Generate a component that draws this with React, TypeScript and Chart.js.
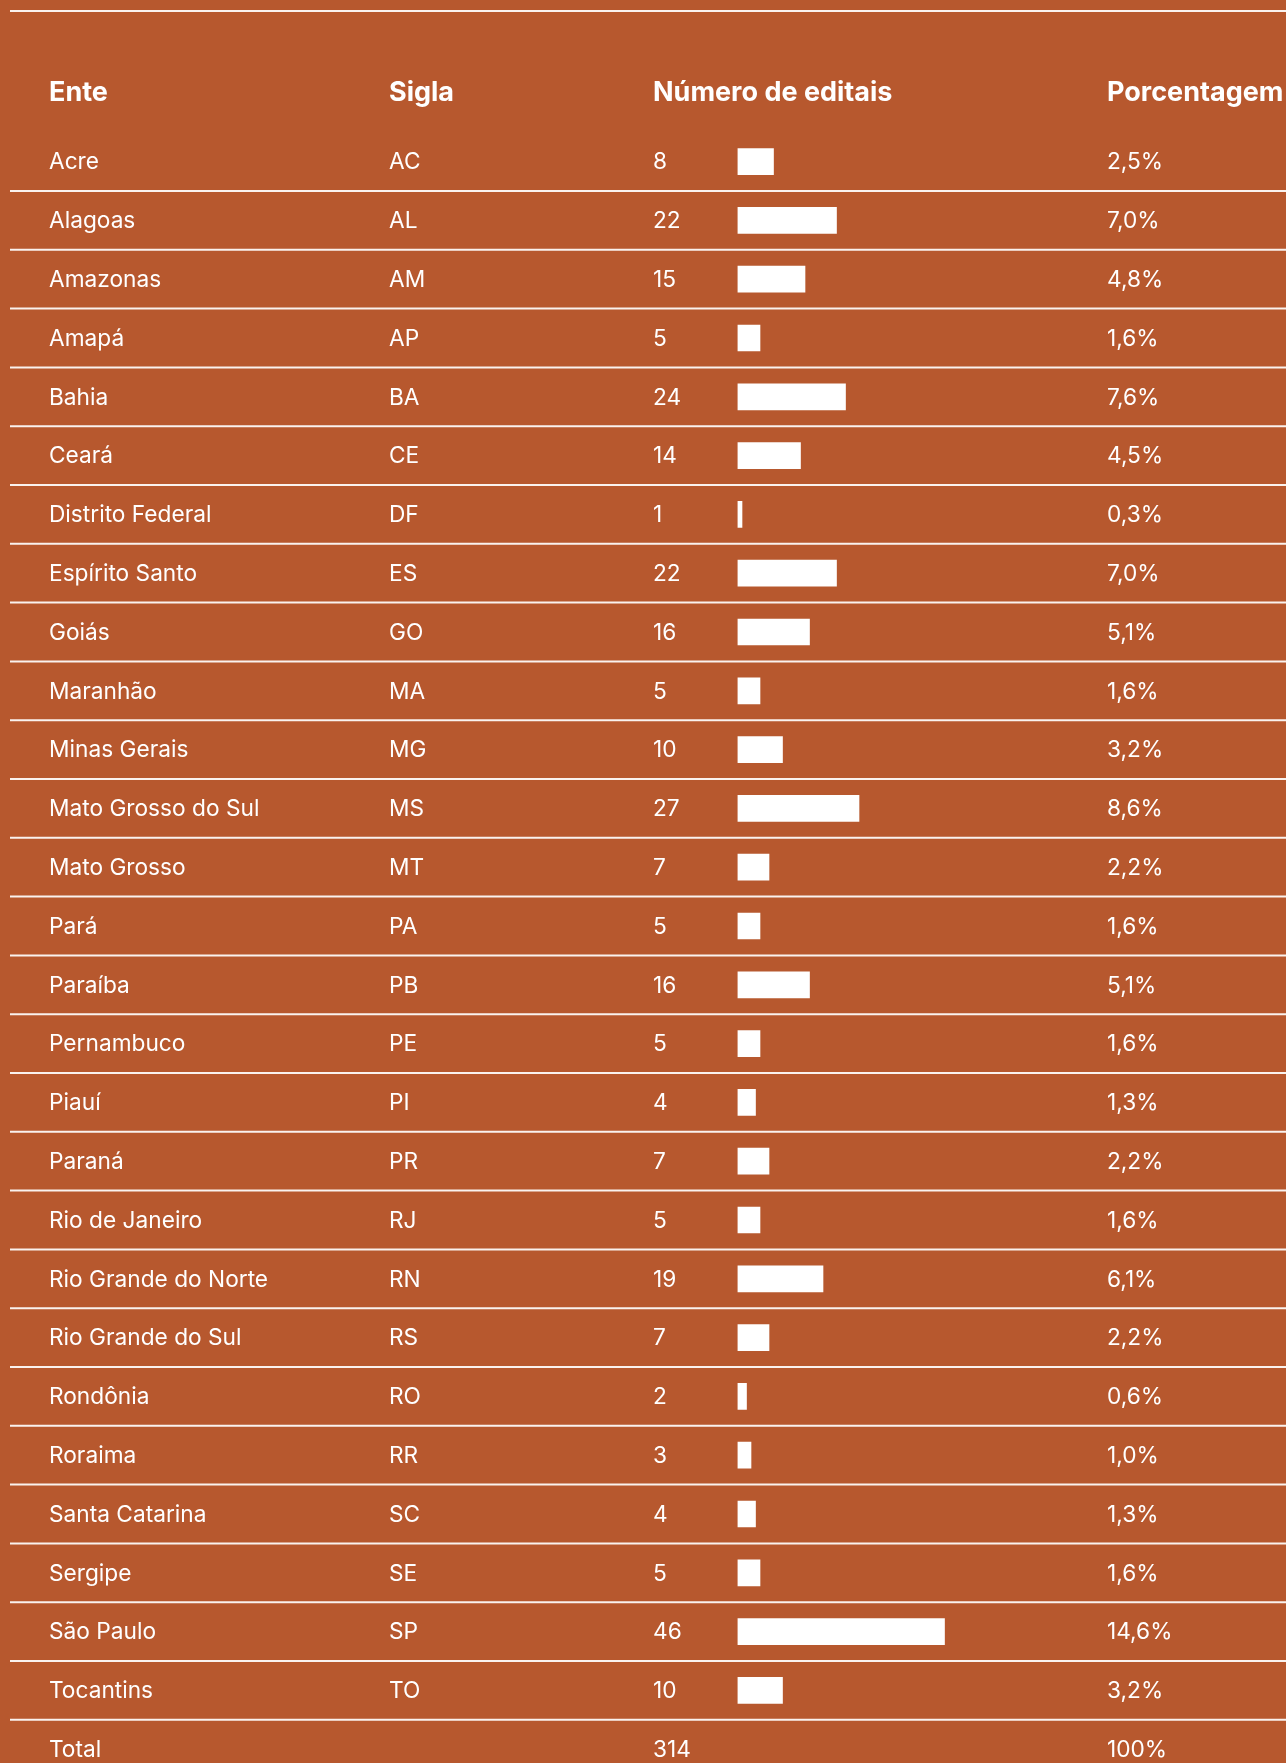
import React, { useEffect, useRef } from "react";
import { Chart, registerables } from "chart.js";

Chart.register(...registerables);

const headers = ["Ente", "Sigla", "Número de editais", "Porcentagem"];
const entes = [
  "Acre", "Alagoas", "Amazonas", "Amapá", "Bahia", "Ceará", "Distrito Federal",
  "Espírito Santo", "Goiás", "Maranhão", "Minas Gerais", "Mato Grosso do Sul",
  "Mato Grosso", "Pará", "Paraíba", "Pernambuco", "Piauí", "Paraná",
  "Rio de Janeiro", "Rio Grande do Norte", "Rio Grande do Sul", "Rondônia",
  "Roraima", "Santa Catarina", "Sergipe", "São Paulo", "Tocantins",
];
const siglas = [
  "AC", "AL", "AM", "AP", "BA", "CE", "DF", "ES", "GO", "MA", "MG", "MS", "MT",
  "PA", "PB", "PE", "PI", "PR", "RJ", "RN", "RS", "RO", "RR", "SC", "SE", "SP", "TO",
];
const editais = [
  8, 22, 15, 5, 24, 14, 1, 22, 16, 5, 10, 27, 7, 5, 16, 5, 4, 7, 5, 19, 7, 2, 3, 4, 5, 46, 10,
];
const porcentagens = [
  "2,5%", "7,0%", "4,8%", "1,6%", "7,6%", "4,5%", "0,3%", "7,0%", "5,1%", "1,6%",
  "3,2%", "8,6%", "2,2%", "1,6%", "5,1%", "1,6%", "1,3%", "2,2%", "1,6%", "6,1%",
  "2,2%", "0,6%", "1,0%", "1,3%", "1,6%", "14,6%", "3,2%",
];
const totalLabel = "Total";
const totalPercent = "100%";

const BG = "#B7582E";
const W = 1286;
const H = 1763;

export default function App() {
  const ref = useRef<HTMLCanvasElement | null>(null);

  useEffect(() => {
    document.body.style.margin = "0";
    document.body.style.background = BG;
    document.body.style.overflow = "hidden";
    const canvas = ref.current;
    if (!canvas) return;

    const colX = [49, 389, 653, 1107];
    const tablePlugin = {
      id: "tablePlugin",
      afterDraw(chart: any) {
        const ctx = chart.ctx;
        const y = chart.scales.y;
        const band = y.getPixelForValue(1) - y.getPixelForValue(0);
        ctx.save();
        // separator lines
        ctx.strokeStyle = "rgba(255,255,255,0.92)";
        ctx.lineWidth = 2;
        const hline = (yy: number) => {
          ctx.beginPath();
          ctx.moveTo(10, yy);
          ctx.lineTo(W, yy);
          ctx.stroke();
        };
        hline(11);
        for (let i = 0; i < entes.length; i++) {
          hline(y.getPixelForValue(i) + band / 2);
        }
        // headers
        ctx.fillStyle = "#ffffff";
        ctx.textBaseline = "alphabetic";
        ctx.textAlign = "left";
        ctx.font = "bold 27px Inter";
        headers.forEach((h, k) => ctx.fillText(h, colX[k], 101));
        // rows
        ctx.font = "22.7px Inter";
        for (let i = 0; i < entes.length; i++) {
          const by = y.getPixelForValue(i) + 7.8;
          ctx.fillText(entes[i], colX[0], by);
          ctx.fillText(siglas[i], colX[1], by);
          ctx.fillText(String(editais[i]), colX[2], by);
          ctx.fillText(porcentagens[i], colX[3], by);
        }
        const ty = y.getPixelForValue(entes.length - 1) + band + 7.8;
        const total = editais.reduce((a, b) => a + b, 0);
        ctx.fillText(totalLabel, colX[0], ty);
        ctx.fillText(String(total), colX[2], ty);
        ctx.fillText(totalPercent, colX[3], ty);
        ctx.restore();
      },
    };

    const top = 132.2;
    const band = 58.8;
    const bottom = top + band * entes.length;
    const left = 737.5;
    const xMax = 50;
    const pxPerUnit = 4.5;
    const right = left + xMax * pxPerUnit;

    const chart = new Chart(canvas, {
      type: "bar",
      data: {
        labels: entes,
        datasets: [
          {
            data: editais,
            backgroundColor: "#ffffff",
            borderWidth: 0,
            barThickness: 26,
          },
        ],
      },
      options: {
        indexAxis: "y",
        animation: false,
        responsive: false,
        devicePixelRatio: 1,
        layout: {
          padding: { top: top, bottom: H - bottom, left: left, right: W - right },
        },
        plugins: {
          legend: { display: false },
          tooltip: { enabled: false },
          title: { display: false },
        },
        scales: {
          x: { type: "linear", min: 0, max: xMax, display: false },
          y: { type: "category", offset: true, display: false },
        },
      },
      plugins: [tablePlugin],
    });
    return () => chart.destroy();
  }, []);

  return (
    <div style={{ width: W, height: H, background: BG, overflow: "hidden" }}>
      <canvas ref={ref} width={W} height={H} style={{ display: "block", width: W, height: H }} />
    </div>
  );
}
